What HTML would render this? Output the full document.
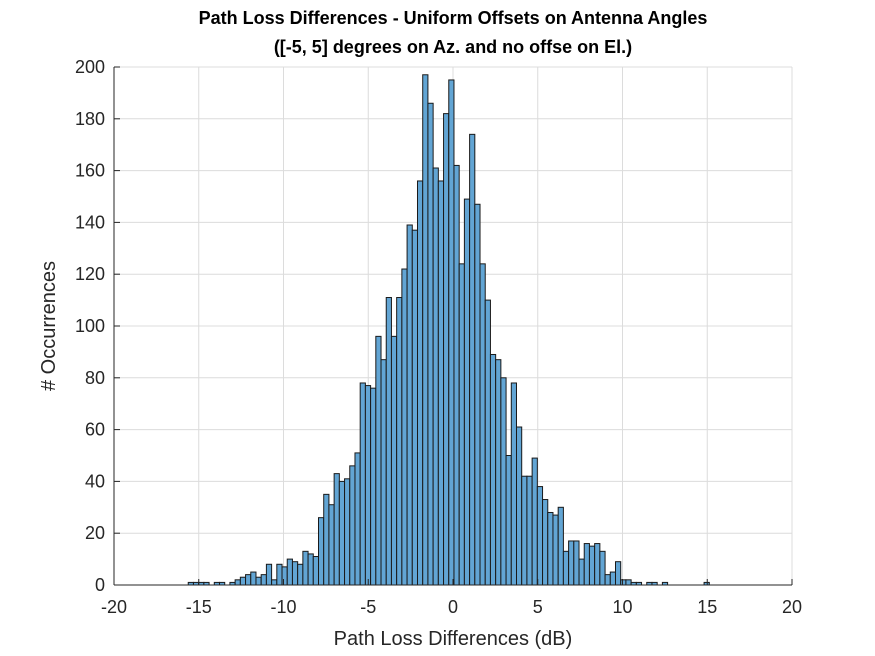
<!DOCTYPE html>
<html><head><meta charset="utf-8"><style>
body{margin:0;background:#fff;}
svg{display:block;font-family:"Liberation Sans",Arial,sans-serif;}
</style></head><body>
<svg id="chart" width="875" height="656" viewBox="0 0 875 656">
<text x="453" y="24" text-anchor="middle" font-size="18" font-weight="bold" fill="#000">Path Loss Differences - Uniform Offsets on Antenna Angles</text>
<text x="453" y="53" text-anchor="middle" font-size="18" font-weight="bold" fill="#000">([-5, 5] degrees on Az. and no offse on El.)</text>
<g id="grid"></g>
<g id="bars"></g>
<g id="axes"></g>
<text x="453" y="645" text-anchor="middle" font-size="20" fill="#262626">Path Loss Differences (dB)</text>
<text transform="translate(55,326) rotate(-90)" text-anchor="middle" font-size="20" fill="#262626"># Occurrences</text>
</svg>
<script>
const binStart = -15.62;
const binWidth = 0.3074;
const counts = [1,1,1,1,0,1,1,0,1,
2,3,4,5,3,4,8,2,8,7,10,9,8,13,12,11,26,35,31,43,40,41,46,51,78,77,76,
96,87,111,96,111,122,139,137,156,197,186,161,156,182,195,162,124,149,174,147,124,110,89,87,80,50,78,61,42,42,49,38,
33,28,27,30,13,17,17,10,16,15,16,13,4,5,9,2,2,1,1,0,1,1,0,1,0,0,0,0,0,0,0,1];
const xTicks = [-20,-15,-10,-5,0,5,10,15,20];
const yTicks = [0,20,40,60,80,100,120,140,160,180,200];

const L=114,R=792,T=67,B=585;
const xs=v=>L+(v+20)/40*(R-L);
const ys=v=>B-v/200*(B-T);
const NS='http://www.w3.org/2000/svg';
function mk(tag,attrs,parent){const e=document.createElementNS(NS,tag);for(const k in attrs)e.setAttribute(k,attrs[k]);parent.appendChild(e);return e;}
const grid=document.getElementById('grid'),bars=document.getElementById('bars'),axes=document.getElementById('axes');
xTicks.forEach(t=>{
  const g=mk('line',{x1:xs(t),x2:xs(t),y1:T,y2:B,stroke:'#dcdcdc','stroke-width':1},grid);
  
  
  const tk=mk('line',{x1:xs(t),x2:xs(t),y1:B,y2:B-6,stroke:'#262626','stroke-width':1},axes);
  
  
  const tx=mk('text',{x:xs(t),y:B+28,'text-anchor':'middle','font-size':18,fill:'#262626'},axes);
  tx.textContent=t;
  
  
});
yTicks.forEach(t=>{
  const g=mk('line',{x1:L,x2:R,y1:ys(t),y2:ys(t),stroke:'#dcdcdc','stroke-width':1},grid);
  
  
  const tk=mk('line',{x1:L,x2:L+6,y1:ys(t),y2:ys(t),stroke:'#262626','stroke-width':1},axes);
  
  
  const tx=mk('text',{x:L-9,y:ys(t)+6,'text-anchor':'end','font-size':18,fill:'#262626'},axes);
  tx.textContent=t;
  
  
});
counts.forEach((c,i)=>{
  if(c<=0)return;
  const x0=xs(binStart+i*binWidth),x1=xs(binStart+(i+1)*binWidth);
  const r=mk('rect',{x:x0,y:ys(c),width:x1-x0,height:B-ys(c),fill:'#62a5d4',stroke:'#1a1a1a','stroke-width':1},bars);
  
  
});
const xa=mk('line',{x1:L,x2:R,y1:B,y2:B,stroke:'#262626','stroke-width':1},axes);


const ya=mk('line',{x1:L,x2:L,y1:T,y2:B,stroke:'#262626','stroke-width':1},axes);


</script>
</body></html>
